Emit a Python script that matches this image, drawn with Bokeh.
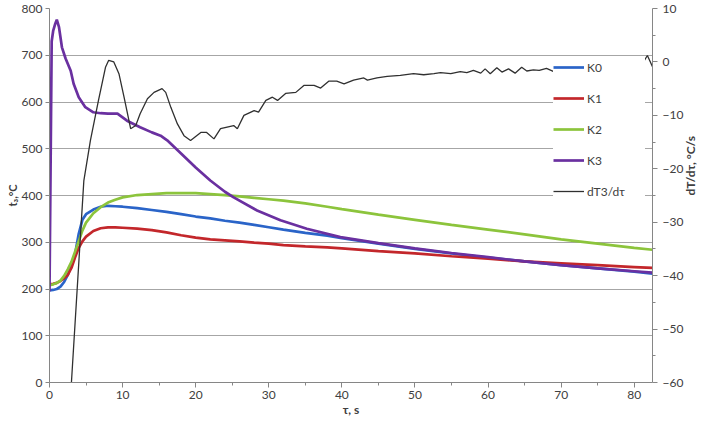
import math
from bokeh.plotting import figure
from bokeh.models import Range1d, LinearAxis, FixedTicker, Legend, LegendItem
from bokeh.embed import file_html
from bokeh.resources import INLINE

# ---- data ----
t_k = [0, 0.5, 1, 1.5, 2, 2.5, 3, 3.5, 4, 4.5, 5, 6, 7, 8, 9, 10, 12, 14, 16, 18, 20,
       22, 24, 26, 28, 30, 32, 35, 38, 40, 45, 50, 55, 60, 65, 70, 75, 80, 82.5]
k0 = [197, 198, 200, 205, 215, 230, 250, 275, 318, 348, 360, 370, 376, 378, 377, 376, 373,
      369, 365, 360, 355, 351, 346, 342, 337, 332, 327, 320, 314, 309, 297, 286, 276, 267,
      259, 251, 244, 237, 233]
k1 = [210, 211, 213, 217, 223, 230, 245, 268, 288, 302, 312, 324, 330, 332, 332, 331, 329,
      326, 321, 315, 310, 306, 304, 302, 299, 297, 294, 291, 289, 287, 281, 276, 270, 265,
      259, 255, 251, 247, 245]
k2 = [208, 210, 213, 218, 228, 242, 258, 280, 302, 325, 342, 362, 375, 385, 391, 396, 401,
      403, 405, 405, 405, 403, 401, 398, 395, 392, 389, 383, 376, 371, 359, 348, 337, 327,
      317, 306, 297, 288, 284]

t_k3 = [0, 0.3, 0.5, 0.8, 1.0, 1.3, 1.7, 2.2, 2.9, 3.3, 4.0, 4.9, 6.0, 7, 8, 9.3, 10.6,
        12.4, 14, 15.2, 16.1, 18, 20, 22, 24, 25.2, 28.4, 31.6, 35.2, 39.8, 45, 50, 55,
        60, 65, 70, 75, 80, 82.5]
k3 = [195, 730, 752, 768, 776, 760, 717, 693, 667, 639, 610, 589, 578, 576, 575, 575, 560,
      546, 535, 528, 518, 490, 460, 432, 408, 396, 368, 347, 329, 311, 298, 287, 277, 268,
      259, 251, 244, 238, 235]

t_d = [3.0, 4.7, 5.6, 6.7, 7.66, 8.1, 8.8, 9.5, 10.2, 11.1, 11.8, 12.4, 13.4, 14.3, 15.4,
       15.9, 16.6, 17.5, 18.4, 19.3, 20.7, 21.5, 22.5, 23.4, 25.2, 25.7, 26.6, 28, 28.6,
       29.6, 30.5, 31.2, 32.3, 33.7, 34.8, 36.2, 37.1, 38.2, 39.3, 40.3, 41.6, 43, 43.5,
       44.8, 46.2, 48, 49.8, 51.2, 52.6, 53.5, 54.9, 56.2, 57.1, 58, 59, 59.6, 60.3, 61.2,
       61.9, 62.8, 63.7, 64.6, 65.3, 66.2, 67.0, 68, 69, 70, 71, 72, 73, 74, 75, 76, 77, 78,
       79, 80, 81, 81.8, 82.5]
d_t3 = [-60, -22.2, -14.7, -7.2, -1.0, 0.3, 0.0, -2.2, -6.6, -12.5, -11.9, -9.7, -6.9, -5.7,
        -5.0, -5.7, -8.5, -11.6, -13.8, -14.7, -13.2, -13.2, -14.4, -12.5, -11.9, -12.5,
        -10.0, -9.1, -9.4, -7.2, -6.6, -7.2, -5.9, -5.7, -4.4, -4.4, -4.9, -3.6, -3.6, -4.1,
        -3.4, -3.0, -3.4, -3.0, -2.7, -2.5, -2.2, -2.4, -2.2, -2.0, -2.2, -1.8, -2.0, -1.6,
        -2.1, -1.3, -2.2, -1.1, -1.9, -1.3, -2.1, -1.0, -1.7, -1.5, -1.6, -1.2, -1.8, -1.0,
        -1.6, -0.9, -1.5, -1.1, -1.7, -0.8, -1.4, -1.0, -1.6, -0.9, -0.6, 1.2, -0.9]

x_ticks = [0, 10, 20, 30, 40, 50, 60, 70, 80]
x_minor = [5, 15, 25, 35, 45, 55, 65, 75]
y_ticks = [0, 100, 200, 300, 400, 500, 600, 700, 800]
y2_ticks = [-60, -50, -40, -30, -20, -10, 0, 10]
y2_minor = [-55, -45, -35, -25, -15, -5, 5]

FONT = "Lato"
AX = "#868686"
LBL = "#404040"

p = figure(width=710, height=426, output_backend="svg", toolbar_location=None,
           x_range=Range1d(0, 82.5), y_range=Range1d(0, 800),
           min_border_left=49, min_border_right=58, min_border_top=8, min_border_bottom=44)
p.extra_y_ranges = {"d": Range1d(-60, 10)}
p.outline_line_color = None
p.background_fill_color = "white"
p.xgrid.visible = False
p.ygrid.ticker = FixedTicker(ticks=y_ticks)
p.ygrid.grid_line_color = "#a6a6a6"
p.ygrid.grid_line_width = 1

def style(ax):
    ax.axis_line_color = AX
    ax.major_tick_line_color = AX
    ax.minor_tick_line_color = AX
    ax.major_tick_in = 0
    ax.major_tick_out = 5
    ax.minor_tick_in = 0
    ax.minor_tick_out = 3
    ax.major_label_text_font = FONT
    ax.major_label_text_font_size = "12px"
    ax.major_label_text_color = LBL
    ax.axis_label_text_font = FONT
    ax.axis_label_text_font_size = "12px"
    ax.axis_label_text_font_style = "bold"
    ax.axis_label_text_color = LBL

xa = p.xaxis[0]
xa.ticker = FixedTicker(ticks=x_ticks, minor_ticks=x_minor)
xa.axis_label = "τ, s"
style(xa)
xa.axis_label_standoff = 0
xa.major_label_standoff = 3

ya = p.yaxis[0]
ya.ticker = FixedTicker(ticks=y_ticks)
ya.axis_label = "t₃,°C"
style(ya)
ya.major_tick_out = 4
ya.major_label_standoff = 3
ya.axis_label_standoff = 0
ya.axis_label_text_font_size = "11px"

ra = LinearAxis(y_range_name="d", ticker=FixedTicker(ticks=y2_ticks, minor_ticks=y2_minor),
                axis_label="dT/dτ, °C/s")
style(ra)
ra.axis_label_standoff = 4
ra.axis_label_orientation = math.pi / 2
p.add_layout(ra, "right")

r0 = p.line(t_k, k0, line_color="#2a64c8", line_width=2.7)
r1 = p.line(t_k, k1, line_color="#c3272b", line_width=2.7)
r2 = p.line(t_k, k2, line_color="#8cc43c", line_width=2.7)
r3 = p.line(t_k3, k3, line_color="#6a30a0", line_width=2.7)
rd = p.line(t_d, d_t3, line_color="#303030", line_width=1.3, y_range_name="d")

legend = Legend(items=[LegendItem(label="K0", renderers=[r0]),
                       LegendItem(label="K1", renderers=[r1]),
                       LegendItem(label="K2", renderers=[r2]),
                       LegendItem(label="K3", renderers=[r3]),
                       LegendItem(label="dT3/dτ", renderers=[rd])],
                location=(504, 181), orientation="vertical",
                border_line_color=None, background_fill_color="white",
                background_fill_alpha=1.0, padding=15, margin=0, spacing=11,
                glyph_width=31, glyph_height=20, label_height=20, label_standoff=3,
                label_width=58,
                label_text_font=FONT, label_text_font_size="12px", label_text_color=LBL)
p.add_layout(legend, "center")

open("out.html", "w").write(file_html(p, INLINE))
